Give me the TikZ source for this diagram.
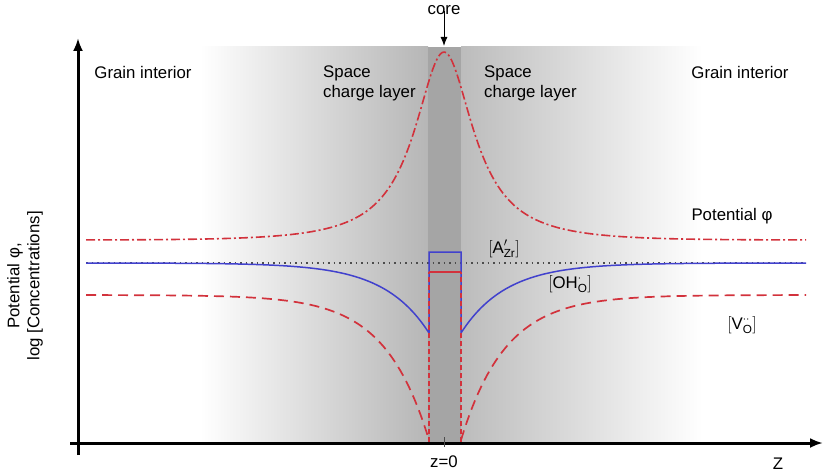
\documentclass[tikz,border=0pt]{standalone}
\usepackage{amsmath}
\usepackage{fontspec}
\setmainfont{Liberation Sans}
\usetikzlibrary{arrows.meta}
\definecolor{curvered}{RGB}{210,50,60}
\definecolor{curveblue}{RGB}{65,65,205}
\definecolor{gleft}{RGB}{182,182,182}
\definecolor{gright}{RGB}{188,188,188}
\definecolor{gcore}{RGB}{165,165,165}
\tikzset{
  lbl/.style={font=\fontsize{16.8}{20}\selectfont, inner sep=0pt},
  axis/.style={line width=3pt, -{Latex[length=13pt,width=10pt]}},
  potline/.style={curvered, line width=1.6pt, dash pattern=on 9pt off 3pt on 2pt off 3pt},
  vline/.style={curvered, line width=1.7pt, dash pattern=on 10pt off 6pt},
  vcore/.style={curvered, line width=2pt, dash pattern=on 5pt off 3pt},
  ohline/.style={curveblue, line width=1.5pt},
  azline/.style={black!70, line width=1.2pt, dash pattern=on 1.5pt off 4pt},
}
\begin{document}
\begin{tikzpicture}[x=1pt,y=-1pt]
\useasboundingbox (0,0) rectangle (824,476);
% background bands
\shade[left color=white, right color=gleft] (200,47) rectangle (428,443);
\fill[gcore] (428,47) rectangle (461,443);
\shade[left color=gright, right color=white] (461,47) rectangle (702,443);
% A_Zr dotted line
\coordinate (azL) at (86,263);
\coordinate (azR) at (806,263);
\draw[azline] (azL) -- (azR);
% OH curve (blue)
\draw[ohline] plot[domain=86:429, samples=120] (\x, {263+70*exp(-(429-\x)/45)})
  -- (429,252) -- (461,252) -- (461,333)
  plot[domain=461:806, samples=120] (\x, {263+70*exp(-(\x-461)/45)});
% V_O curve (red dashed)
\draw[vline] plot[domain=86:429, samples=120] (\x, {295+145*exp(-(429-\x)/44)});
\draw[vline] plot[domain=461:806, samples=120] (\x, {295+145*exp(-(\x-461)/44)});
\draw[vcore] (429,442) -- (429,272);
\draw[vcore] (461,442) -- (461,272);
\draw[curvered, line width=1.5pt] (429,272) -- (461,272);
% potential
\draw[potline] plot[domain=86:806, samples=300] (\x, {240-188/(1+((\x-444)/36)^2)*exp(-((\x-444)/200)^2)});
% axes
\coordinate (o1) at (78,455);
\coordinate (ytop) at (78,38);
\coordinate (o2) at (70,443);
\coordinate (xend) at (823,443);
\draw[axis] (o1) -- (ytop);
\draw[axis] (o2) -- (xend);
\coordinate (t1) at (444,437);
\coordinate (t2) at (444,447);
\draw[black!70, line width=0.6pt] (t1) -- (t2);
% labels
\node[lbl] (core) at (444,10) {core};
\coordinate (cpeak) at (444,46);
\draw[line width=1pt, -{Latex[length=9pt,width=7pt]}] (core.south) ++(0,-4) -- (cpeak);
\node[lbl] (gi1) at (143,72) {Grain interior};
\node[lbl] (gi2) at (740,72) {Grain interior};
\node[lbl, align=left, anchor=north west] (scl1) at (323,66) {Space\\charge layer};
\node[lbl, align=left, anchor=north west] (scl2) at (484,66) {Space\\charge layer};
\node[lbl] (pot) at (732,216) {Potential φ};
\node[lbl] (az) at (504,249) {$[\text{A}^{\prime}_{\text{Zr}}]$};
\node[lbl] (oh) at (570,284) {$[\text{OH}^{\cdot}_{\text{O}}]$};
\node[lbl] (vo) at (742,325) {$[\text{V}^{\cdot\cdot}_{\text{O}}]$};
\node[lbl] (z0) at (444,462) {z=0};
\node[lbl] (zz) at (778,464) {Z};
\node[lbl, rotate=90, align=center] (ylab) at (25,286) {Potential φ,\\log [Concentrations]};
\end{tikzpicture}
\end{document}
